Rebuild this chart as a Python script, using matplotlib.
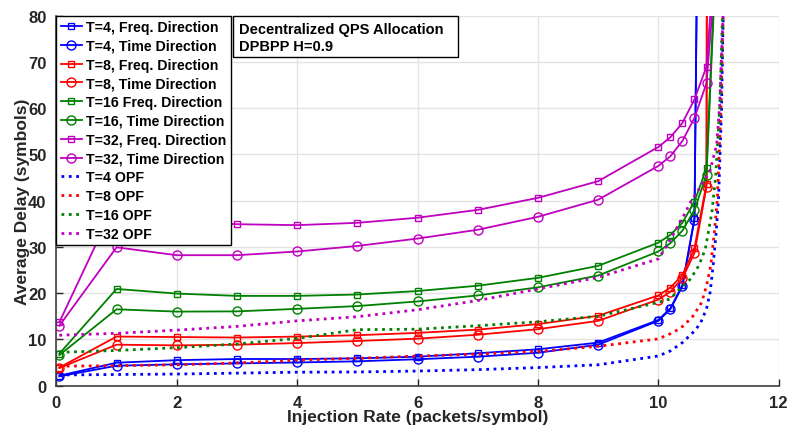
import matplotlib
matplotlib.use("Agg")
import matplotlib.pyplot as plt
from matplotlib.patches import Rectangle

plt.rcParams['font.family'] = ['Liberation Sans', 'DejaVu Sans']
plt.rcParams['font.weight'] = 'bold'

# measured curves
x_t4 = [0.05, 1, 2, 3, 4, 5, 6, 7, 8, 9, 10, 10.2, 10.4, 10.6, 10.65]
t4_freq = [2.15, 4.95, 5.5, 5.75, 5.75, 5.9, 6.25, 7.0, 7.85, 9.3, 14.2, 16.7, 21.75, 36.2, 100]
t4_time = [2.0, 4.3, 4.6, 4.8, 5.0, 5.25, 5.7, 6.25, 7.1, 8.85, 14.0, 16.55, 21.5, 35.9, 100]

x_t8 = [0.05, 1, 2, 3, 4, 5, 6, 7, 8, 9, 10, 10.2, 10.4, 10.6, 10.8, 10.82]
t8_freq = [3.9, 10.6, 10.5, 10.4, 10.6, 10.9, 11.4, 12.1, 13.3, 15.1, 19.5, 21.2, 23.9, 29.7, 43.7, 200]
t8_time = [3.8, 8.85, 8.7, 8.85, 9.2, 9.65, 10.15, 11.0, 12.2, 14.0, 18.6, 20.3, 23.2, 28.7, 43.0, 200]

x_t16 = [0.05, 1, 2, 3, 4, 5, 6, 7, 8, 9, 10, 10.2, 10.4, 10.6, 10.8, 10.95]
t16_freq = [6.9, 20.9, 19.9, 19.4, 19.4, 19.7, 20.45, 21.6, 23.3, 25.9, 30.9, 32.6, 35.2, 39.8, 47.0, 92]
t16_time = [6.6, 16.5, 16.0, 16.05, 16.6, 17.2, 18.2, 19.5, 21.25, 23.8, 29.0, 30.8, 33.5, 38.0, 45.6, 90]

x_t32 = [0.05, 1, 2, 3, 4, 5, 6, 7, 8, 9, 10, 10.2, 10.4, 10.6, 10.8, 10.95]
t32_freq = [13.7, 40.0, 35.5, 34.9, 34.7, 35.2, 36.3, 38.0, 40.6, 44.2, 51.6, 53.7, 56.8, 61.9, 69.0, 96]
t32_time = [12.95, 29.9, 28.2, 28.2, 29.0, 30.2, 31.8, 33.7, 36.5, 40.2, 47.5, 49.6, 52.9, 57.9, 65.4, 90]

# OPF curves
x_opf4 = [0.05, 1, 2, 3, 4, 5, 6, 7, 8, 9, 10, 10.2, 10.4, 10.6, 10.7, 10.8, 10.86, 10.91, 10.96, 11.0, 11.05, 11.08]
opf4 = [2.3, 2.4, 2.5, 2.7, 2.9, 2.95, 3.15, 3.45, 3.9, 4.5, 6.4, 7.5, 9.3, 11.8, 13.5, 16.6, 20.2, 25.9, 33.1, 40.3, 60, 82]

x_opf8 = [0.05, 1, 2, 3, 4, 5, 6, 7, 8, 9, 10, 10.25, 10.42, 10.58, 10.72, 10.8, 10.87, 10.93, 10.98, 11.04, 11.08]
opf8 = [4.2, 4.3, 4.5, 4.9, 5.5, 5.9, 6.4, 6.8, 7.4, 8.5, 10.1, 11.5, 12.95, 15.1, 18.0, 21.6, 25.9, 33.1, 40.3, 60, 82]

x_opf16 = [0.05, 1, 2, 3, 4, 5, 6, 7, 8, 9, 10, 10.19, 10.36, 10.53, 10.67, 10.78, 10.83, 10.89, 10.95, 11.02, 11.07]
opf16 = [7.2, 7.6, 8.2, 9.0, 10.2, 12.1, 12.2, 12.95, 13.8, 15.0, 18.0, 18.7, 20.9, 23.0, 25.9, 29.5, 33.1, 37.5, 45, 60, 82]

x_opf32 = [0.05, 1, 2, 3, 4, 5, 6, 7, 8, 9, 10, 10.14, 10.28, 10.42, 10.53, 10.7, 10.86, 10.97, 11.02, 11.08]
opf32 = [10.9, 11.3, 12.0, 12.8, 14.0, 14.9, 16.4, 18.4, 20.9, 23.4, 27.4, 30.2, 33.5, 36.7, 39.6, 43, 46.5, 52.2, 60.9, 82]

labels = ["T=4, Freq. Direction", "T=4, Time Direction",
          "T=8, Freq. Direction", "T=8, Time Direction",
          "T=16 Freq. Direction", "T=16, Time Direction",
          "T=32, Freq. Direction", "T=32, Time Direction",
          "T=4 OPF", "T=8 OPF", "T=16 OPF", "T=32 OPF"]

x_ticks = [0, 2, 4, 6, 8, 10, 12]
y_ticks = [0, 10, 20, 30, 40, 50, 60, 70, 80]

BLUE, RED, GREEN, MAG = '#0000ff', '#ff0000', '#008000', '#bf00bf'

fig = plt.figure(figsize=(7.89, 4.27), dpi=100)
ax = fig.add_axes([0.0714, 0.0946, 0.9156, 0.8664])

sq = dict(marker='s', markersize=5, markerfacecolor='none', markeredgewidth=1.0, lw=1.3)
ci = dict(marker='o', markersize=6.5, markerfacecolor='none', markeredgewidth=1.0, lw=1.3)
dot = dict(ls=':', lw=2.0)

ax.plot(x_t4, t4_freq, color=BLUE, label=labels[0], **sq)
ax.plot(x_t4, t4_time, color=BLUE, label=labels[1], **ci)
ax.plot(x_t8, t8_freq, color=RED, label=labels[2], **sq)
ax.plot(x_t8, t8_time, color=RED, label=labels[3], **ci)
ax.plot(x_t16, t16_freq, color=GREEN, label=labels[4], **sq)
ax.plot(x_t16, t16_time, color=GREEN, label=labels[5], **ci)
ax.plot(x_t32, t32_freq, color=MAG, label=labels[6], **sq)
ax.plot(x_t32, t32_time, color=MAG, label=labels[7], **ci)
ax.plot(x_opf4, opf4, color=BLUE, label=labels[8], **dot)
ax.plot(x_opf8, opf8, color=RED, label=labels[9], **dot)
ax.plot(x_opf16, opf16, color=GREEN, label=labels[10], **dot)
ax.plot(x_opf32, opf32, color=MAG, label=labels[11], **dot)

ax.set_xlim(0, 12)
ax.set_ylim(0, 80)
ax.set_xticks(x_ticks)
ax.set_yticks(y_ticks)
ax.grid(True, color='#e3e3e3', lw=1.0)
ax.set_axisbelow(True)
for s in ['top', 'right']:
    ax.spines[s].set_visible(False)
for s in ['left', 'bottom']:
    ax.spines[s].set_color('#404040')
    ax.spines[s].set_linewidth(1.2)
ax.tick_params(direction='in', length=5, width=1.0, color='#262626',
               labelsize=12, labelcolor='#262626', pad=7)
for t in ax.get_xticklabels() + ax.get_yticklabels():
    t.set_fontweight('bold')

ax.set_xlabel("Injection Rate (packets/symbol)", fontsize=12.5, fontweight='bold',
              color='#262626')
ax.set_ylabel("Average Delay (symbols)", fontsize=12.5, fontweight='bold', color='#262626')
ax.yaxis.set_label_coords(-0.037, 0.5)
ax.xaxis.set_label_coords(0.5, -0.063)

leg = ax.legend(loc='upper left', bbox_to_anchor=(0, 1), borderaxespad=0,
                fontsize=10.2, frameon=True, fancybox=False, framealpha=1,
                edgecolor='black', handlelength=1.5, handletextpad=0.3,
                labelspacing=0.34, borderpad=0.3)
leg.set_zorder(7)
leg.get_frame().set_linewidth(1.0)
for t in leg.get_texts():
    t.set_fontweight('bold')

# annotation box
ax.add_patch(Rectangle((0.2446, 0.887), 0.3115, 0.113, transform=ax.transAxes,
                       facecolor='white', edgecolor='black', lw=1.0, zorder=5,
                       clip_on=False))
ax.text(0.2525, 0.982, "Decentralized QPS Allocation\nDPBPP H=0.9", transform=ax.transAxes,
        ha='left', va='top', fontsize=10.5, fontweight='bold', linespacing=1.2, zorder=6)

fig.savefig("out.png", dpi=100)
